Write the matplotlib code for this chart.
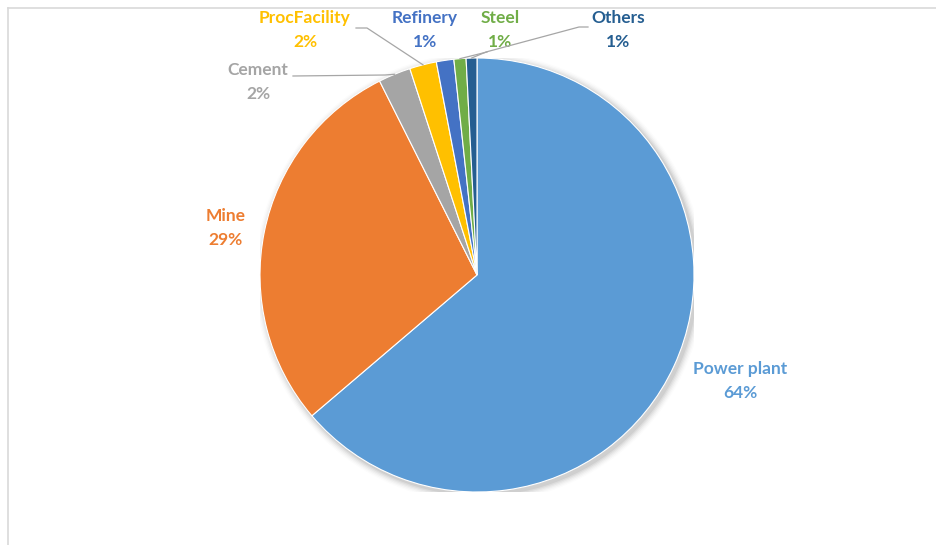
import matplotlib
matplotlib.use("Agg")
import matplotlib.pyplot as plt
import numpy as np
from matplotlib.lines import Line2D
from matplotlib.patches import Circle

categories = ["Power plant", "Mine", "Cement", "ProcFacility", "Refinery", "Steel", "Others"]
values = [63.7, 28.8, 2.4, 2.0, 1.3, 0.9, 0.8]
colors = ["#5B9BD5", "#ED7D31", "#A5A5A5", "#FFC000", "#4472C4", "#70AD47", "#255E91"]

# label anchor positions in figure pixels (x from left, y from top)
label_pos = {
    "Power plant": (740, 381),
    "Mine": (226, 228),
    "Cement": (258, 82),
    "ProcFacility": (305, 30),
    "Refinery": (425, 30),
    "Steel": (500, 30),
    "Others": (618, 30),
}

W, H = 937, 545
fig = plt.figure(figsize=(W / 100, H / 100), dpi=100)
fig.patch.set_facecolor("white")

# frame lines
fig.add_artist(Line2D([8 / W, 1], [1 - 8 / H, 1 - 8 / H], color="#D9D9D9", lw=1.2))
fig.add_artist(Line2D([8 / W, 8 / W], [0, 1 - 8 / H], color="#D9D9D9", lw=1.2))

cx, cy, r = 477, 275, 217
ax = fig.add_axes([(cx - r) / W, (H - cy - r) / H, 2 * r / W, 2 * r / H])
ax.axis("off")

# soft shadow
for i, a in enumerate(np.linspace(0.05, 0.012, 6)):
    ax.add_patch(Circle((0.012, -0.012), 1.0 + 0.006 * (i + 1), color="black", alpha=a, lw=0, zorder=0))

wedges, _ = ax.pie(values, colors=colors, startangle=90, counterclock=False,
                   radius=1.0, wedgeprops=dict(linewidth=0.8, edgecolor="white"))
for w in wedges:
    w.set_zorder(2)
ax.set_xlim(-1, 1)
ax.set_ylim(-1, 1)
ax.set_aspect("equal")

total = sum(values)
fp = dict(family=["Lato", "DejaVu Sans"], weight="bold", size=12.5)
for cat, val, col, w in zip(categories, values, colors, wedges):
    px, py = label_pos[cat]
    fig.text(px / W, 1 - py / H, f"{cat}\n{round(val / total * 100):.0f}%",
             ha="center", va="center", color=col, linespacing=1.65, **fp)

def wedge_point(w, frac=1.0):
    ang = np.deg2rad((w.theta1 + w.theta2) / 2)
    return frac * np.cos(ang), frac * np.sin(ang)

def fig_px(xd, yd):
    X, Y = ax.transData.transform((xd, yd))
    return X, Y

lc = "#A6A6A6"
def leader(points_top, w):
    ex, ey = fig_px(*wedge_point(w))
    xs = [p[0] for p in points_top] + [ex]
    ys = [H - p[1] for p in points_top] + [ey]
    fig.add_artist(Line2D(np.array(xs) / W, np.array(ys) / H, color=lc, lw=0.9, zorder=5))

idx = {c: i for i, c in enumerate(categories)}
leader([(293, 76), (385, 75)], wedges[idx["Cement"]])
leader([(356, 28), (367, 28)], wedges[idx["ProcFacility"]])
leader([(588, 27), (579, 27), (486, 52)], wedges[idx["Others"]])
leader([(487, 52)], wedges[idx["Steel"]])

fig.savefig("out.png", dpi=100)
